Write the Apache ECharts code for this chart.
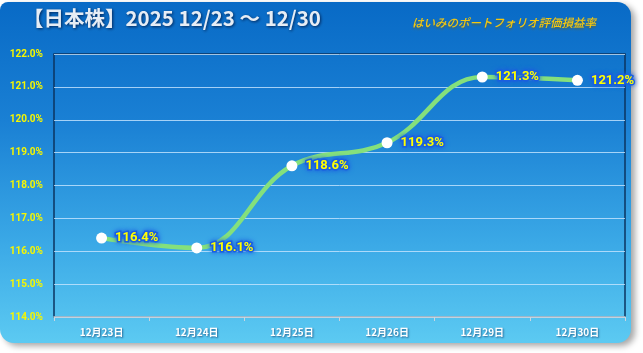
<!DOCTYPE html>
<html><head><meta charset="utf-8">
<script src="https://cdn.jsdelivr.net/npm/echarts@6/dist/echarts.min.js"></script>
<style>html,body{margin:0;padding:0;background:#fff;}#c{width:643px;height:353px;}</style>
</head><body><div id="c"></div>
<script>
const titleText = '【日本株】2025 12/23 ～ 12/30';
const subtitleText = 'はいみのポートフォリオ評価損益率';
const categories = ['12月23日','12月24日','12月25日','12月26日','12月29日','12月30日'];
const values = [116.4, 116.1, 118.6, 119.3, 121.3, 121.2];
const yMin = 114, yMax = 122, yStep = 1;

const chart = echarts.init(document.getElementById('c'));
chart.setOption({
  backgroundColor: '#ffffff',
  animation: false,
  graphic: [
    { type: 'rect', left: 0, top: 2, z: -10,
      shape: { width: 631, height: 341, r: [8, 14, 14, 14] },
      style: {
        fill: new echarts.graphic.LinearGradient(0, 0, 0, 1, [
          { offset: 0, color: '#086ac6' },
          { offset: 0.35, color: '#1a80d4' },
          { offset: 0.7, color: '#3aa8e6' },
          { offset: 1, color: '#5ccaf2' }
        ]),
        shadowColor: 'rgba(0,0,0,0.35)', shadowBlur: 6, shadowOffsetX: 4, shadowOffsetY: 3
      }
    },
    { type: 'text', left: 23, top: 8, z: 10,
      style: { text: titleText, fill: '#e6edf5', font: 'bold 20.5px "Noto Sans CJK JP", sans-serif',
        textShadowColor: 'rgba(0,20,60,0.8)', textShadowBlur: 3, textShadowOffsetX: 1, textShadowOffsetY: 1 } },
    { type: 'text', left: 412, top: 17, z: 10,
      style: { text: subtitleText, fill: '#f5c810', font: 'italic 500 11.5px "Noto Sans CJK JP", sans-serif',
        textShadowColor: 'rgba(120,90,0,0.5)', textShadowBlur: 2, textShadowOffsetY: 2 } }
  ],
  grid: { left: 54, right: 18, top: 54, bottom: 36, show: true, borderColor: '#0b3560', borderWidth: 1.5, backgroundColor: 'transparent' },
  xAxis: {
    type: 'category', data: categories, boundaryGap: true,
    axisLine: { lineStyle: { color: '#c9d6e0', width: 1.5 } },
    axisTick: { show: true, length: 4, lineStyle: { color: '#c9d6e0' } },
    axisLabel: { color: '#ffffff', fontWeight: 'bold', fontSize: 10, margin: 10,
      fontFamily: '"Noto Sans CJK JP", sans-serif',
      textShadowColor: 'rgba(0,30,80,0.6)', textShadowBlur: 2, textShadowOffsetX: 1, textShadowOffsetY: 1 }
  },
  yAxis: {
    type: 'value', min: yMin, max: yMax, interval: yStep,
    axisLine: { show: false },
    axisTick: { show: false },
    splitLine: { lineStyle: { color: 'rgba(200,230,255,0.8)', width: 1 } },
    axisLabel: { color: '#f6f600', fontWeight: 'bold', fontSize: 10, margin: 11,
      fontFamily: 'Roboto, sans-serif',
      formatter: v => v.toFixed(1) + '%' }
  },
  series: [{
    type: 'line', data: values, smooth: 0.4,
    symbol: 'circle', symbolSize: 11,
    itemStyle: { color: '#ffffff' },
    lineStyle: { color: '#84e07c', width: 4.5 },
    label: { show: true, position: 'right', distance: 8, color: '#ffff00', fontWeight: 'bold', fontSize: 13,
      fontFamily: 'Roboto, sans-serif',
      textBorderColor: '#1a5ee0', textBorderWidth: 3,
      textShadowColor: '#1a5ee0', textShadowBlur: 5,
      formatter: p => p.value.toFixed(1) + '%' },
    z: 5
  }]
});
</script></body></html>
